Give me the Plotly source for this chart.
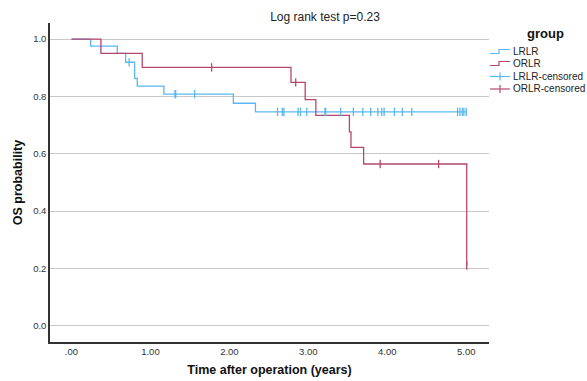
import plotly.graph_objects as go

# ---- data ----
lrlr_time = [0.0, 0.243, 0.58, 0.686, 0.80, 0.833, 1.17, 2.05, 2.33, 5.00]
lrlr_surv = [1.0, 0.975, 0.950, 0.919, 0.863, 0.836, 0.808, 0.776, 0.746, 0.746]
orlr_time = [0.0, 0.373, 0.896, 2.78, 2.96, 3.095, 3.52, 3.54, 3.70, 5.006, 5.006]
orlr_surv = [1.0, 0.950, 0.901, 0.849, 0.789, 0.734, 0.676, 0.622, 0.564, 0.21, 0.21]
lrlr_cens_time = [0.73, 1.31, 1.32, 1.56, 2.61, 2.67, 2.69, 2.87, 2.90, 2.98, 3.21, 3.22,
                  3.41, 3.57, 3.69, 3.79, 3.88, 3.93, 3.96, 4.09, 4.19, 4.31,
                  4.89, 4.92, 4.95, 4.97, 5.00]
lrlr_cens_surv = [0.919, 0.808, 0.808, 0.808] + [0.746] * 23
orlr_cens_time = [1.775, 2.84, 3.91, 4.65, 5.006]
orlr_cens_surv = [0.901, 0.849, 0.564, 0.564, 0.21]
x_tickvals = [0, 1, 2, 3, 4, 5]
x_ticktext = [".00", "1.00", "2.00", "3.00", "4.00", "5.00"]
y_tickvals = [0.0, 0.2, 0.4, 0.6, 0.8, 1.0]
y_ticktext = ["0.0", "0.2", "0.4", "0.6", "0.8", "1.0"]
legend_names = ["LRLR", "ORLR", "LRLR-censored", "ORLR-censored"]

BLUE = "#5bb8ef"
RED = "#b5476f"
FONT = "Liberation Sans"

W, H = 587, 381
ML, MR, MT, MB = 50, 98, 23, 39
PW, PH = W - ML - MR, H - MT - MB


def px_x(p):
    return (p - ML) / PW


def px_y(p):
    return (H - MB - p) / PH


def gapped(xs, ys):
    gx, gy = [], []
    for a, b in zip(xs, ys):
        gx += [a, None]
        gy += [b, None]
    return gx, gy


fig = go.Figure()
fig.add_trace(go.Scatter(x=lrlr_time, y=lrlr_surv, mode="lines", name=legend_names[0],
                         line=dict(color=BLUE, width=1.3, shape="hv"), showlegend=False))
fig.add_trace(go.Scatter(x=orlr_time, y=orlr_surv, mode="lines", name=legend_names[1],
                         line=dict(color=RED, width=1.3, shape="hv"), showlegend=False))
cx, cy = gapped(lrlr_cens_time, lrlr_cens_surv)
fig.add_trace(go.Scatter(x=cx, y=cy, mode="markers", name=legend_names[2],
                         showlegend=False,
                         marker=dict(symbol="line-ns-open", size=6, color=BLUE,
                                     line=dict(color=BLUE, width=1.3))))
cx, cy = gapped(orlr_cens_time, orlr_cens_surv)
fig.add_trace(go.Scatter(x=cx, y=cy, mode="markers", name=legend_names[3],
                         showlegend=False,
                         marker=dict(symbol="line-ns-open", size=6, color=RED,
                                     line=dict(color=RED, width=1.3))))

# ---- manual legend (compact like the original) ----
annotations = [dict(text="<b>group</b>", xref="paper", yref="paper",
                    x=px_x(545), y=px_y(34), xanchor="center", yanchor="middle",
                    showarrow=False, font=dict(size=13, family=FONT, color="#111"))]
shapes = []
item_y = [51.5, 63.5, 76.5, 89]
item_col = [BLUE, RED, BLUE, RED]
for i, (name, yy, col) in enumerate(zip(legend_names, item_y, item_col)):
    annotations.append(dict(text=name, xref="paper", yref="paper",
                            x=px_x(511), y=px_y(yy), xanchor="left", yanchor="middle",
                            showarrow=False,
                            font=dict(size=10, family=FONT, color="#222")))
    if i < 2:
        path = "M {} {} L {} {} L {} {} L {} {}".format(
            px_x(490), px_y(yy + 2), px_x(499), px_y(yy + 2),
            px_x(499), px_y(yy - 2), px_x(510), px_y(yy - 2))
        shapes.append(dict(type="path", path=path, xref="paper", yref="paper",
                           line=dict(color=col, width=1.2)))
    else:
        shapes.append(dict(type="line", xref="paper", yref="paper",
                           x0=px_x(490), x1=px_x(510), y0=px_y(yy), y1=px_y(yy),
                           line=dict(color=col, width=1.2)))
        shapes.append(dict(type="line", xref="paper", yref="paper",
                           x0=px_x(500), x1=px_x(500), y0=px_y(yy - 4), y1=px_y(yy + 4),
                           line=dict(color=col, width=1.2)))

fig.update_layout(
    width=W, height=H,
    margin=dict(l=ML, r=MR, t=MT, b=MB),
    paper_bgcolor="white", plot_bgcolor="white",
    font=dict(family=FONT, color="#222"),
    showlegend=False,
    title=dict(text="Log rank test p=0.23", x=325 / W, xanchor="center",
               y=1 - 17 / H, yanchor="middle",
               font=dict(family=FONT, size=12, color="#222")),
    annotations=annotations,
    shapes=shapes,
    xaxis=dict(range=[-0.272, 5.288], tickvals=x_tickvals, ticktext=x_ticktext,
               showgrid=False, zeroline=False, showline=True, linecolor="#333",
               linewidth=1.5, ticks="", tickfont=dict(size=9.5, color="#333"),
               automargin=False,
               title=dict(text="<b>Time after operation (years)</b>",
                          font=dict(size=12.5, family=FONT, color="#111"),
                          standoff=9)),
    yaxis=dict(range=[-0.057, 1.056], tickvals=y_tickvals, ticktext=y_ticktext,
               showgrid=True, gridcolor="#c8c8c8", gridwidth=1, zeroline=False,
               showline=True, linecolor="#333", linewidth=1.5, ticks="",
               tickfont=dict(size=9.5, color="#333"), ticklabelstandoff=0,
               automargin=False,
               title=dict(text="<b>OS probability</b>",
                          font=dict(size=12.5, family=FONT, color="#111"),
                          standoff=8)),
)

fig.write_html("out.html",
               config={"displayModeBar": False},
               post_script="document.body.style.margin='0';"
                           "document.body.style.overflow='hidden';")
